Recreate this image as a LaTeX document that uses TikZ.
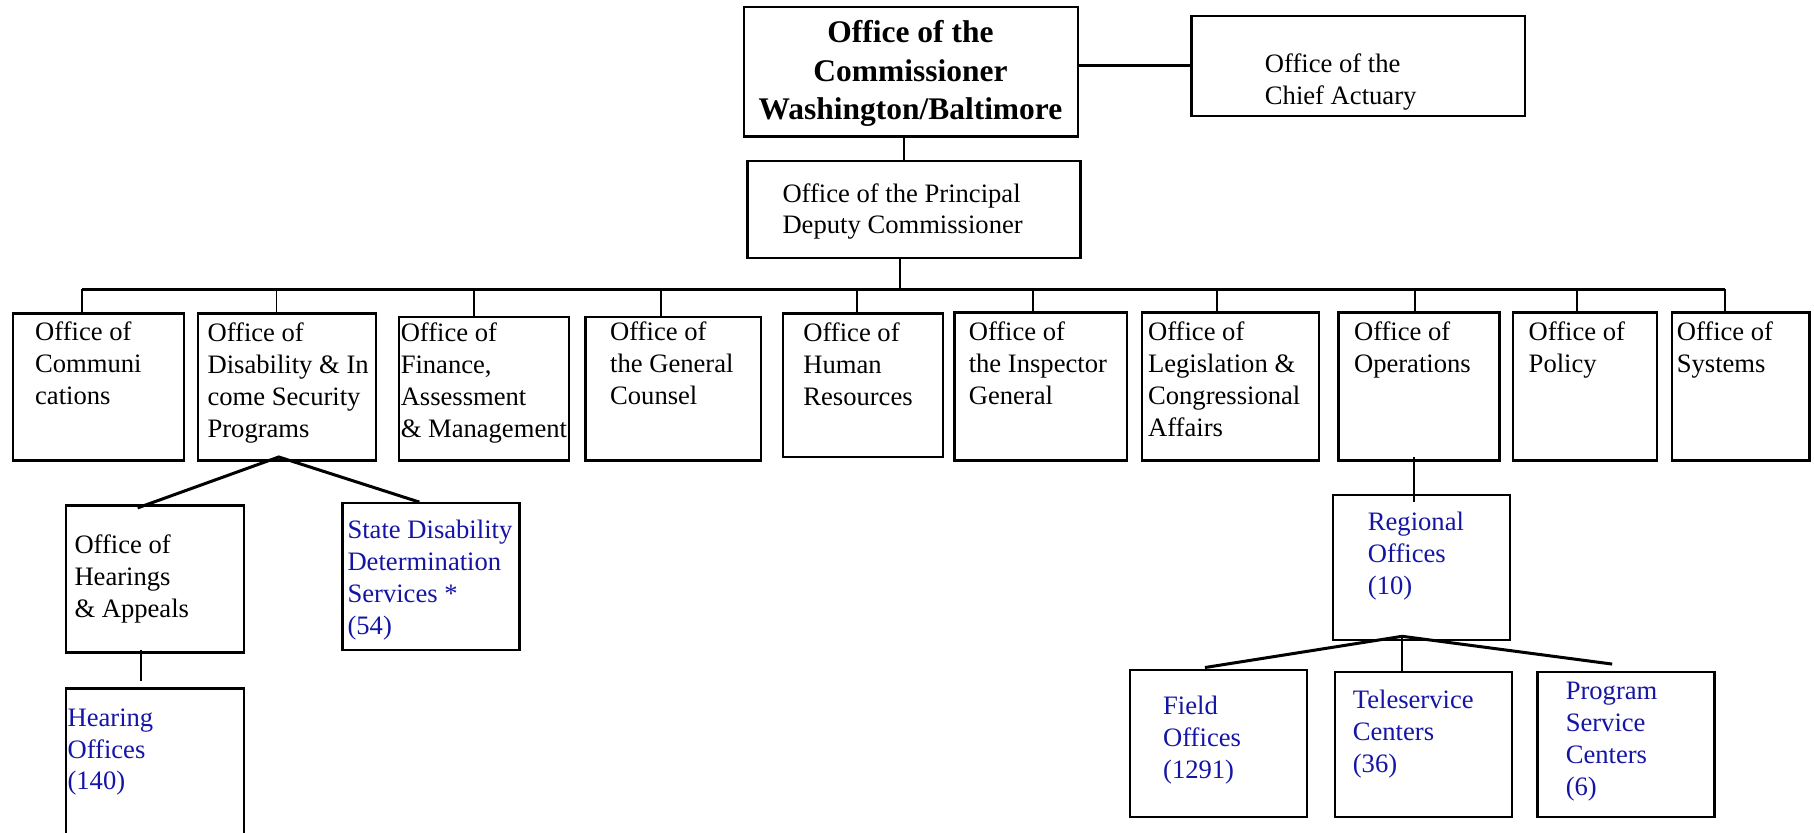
\documentclass[tikz,border=0pt]{standalone}
\usepackage{fontspec}
\setmainfont{Liberation Serif}
\usetikzlibrary{fit,calc}
\definecolor{ssablue}{RGB}{20,20,165}
\tikzset{
	box/.style={draw, line width=1pt, inner sep=0pt},
	txt/.style={anchor=north west, inner sep=0pt, align=left, font=\fontsize{11.5}{13.8}\selectfont},
	bluetxt/.style={txt, text=ssablue},
	link/.style={line width=0.8pt},
	thicklink/.style={line width=1.3pt}
}
\begin{document}
\begin{tikzpicture}[x=0.5pt, y=-0.5pt]
		\useasboundingbox (0,0) rectangle (1568,720);
		\clip (0,0) rectangle (1568,720);
		% top
		\node [box, fit={(643,6)(932,118)}] (comm) {};
		\node [anchor=north, inner sep=0pt, align=center, font=\fontsize{13.6}{16.75}\selectfont\bfseries] (comm-t) at (787,17) {Office of the\\Commissioner\\Washington/Baltimore};
		\node [box, fit={(1030,14)(1318,100)}] (act) {};
		\node [txt] (act-t) at (1093,46) {Office of the\\Chief Actuary};
		\node [box, fit={(646,139)(934,223)}] (dep) {};
		\node [txt] (dep-t) at (676,158) {Office of the Principal\\Deputy Commissioner};
		% offices
		\node [box, fit={(11,271)(159,398)}] (ocomm) {};
		\node [txt] (ocomm-t) at (30,278) {Office of\\Communi\\cations};
		\node [box, fit={(171,271)(325,398)}] (odis) {};
		\node [txt] (odis-t) at (179,279) {Office of\\Disability \& In\\come Security\\Programs};
		\node [box, fit={(345,274)(492,398)}] (ofin) {};
		\node [txt] (ofin-t) at (346,279) {Office of\\Finance,\\Assessment\\\& Management};
		\node [box, fit={(506,274)(658,398)}] (ogc) {};
		\node [txt] (ogc-t) at (527,278) {Office of\\the General\\Counsel};
		\node [box, fit={(677,271)(815,395)}] (ohr) {};
		\node [txt] (ohr-t) at (694,279) {Office of\\Human\\Resources};
		\node [box, fit={(825,270)(974,398)}] (oig) {};
		\node [txt] (oig-t) at (837,278) {Office of\\the Inspector\\General};
		\node [box, fit={(987,270)(1140,398)}] (oleg) {};
		\node [txt] (oleg-t) at (992,278) {Office of\\Legislation \&\\Congressional\\Affairs};
		\node [box, fit={(1157,270)(1296,398)}] (oops) {};
		\node [txt] (oops-t) at (1170,278) {Office of\\Operations};
		\node [box, fit={(1308,270)(1432,398)}] (opol) {};
		\node [txt] (opol-t) at (1321,278) {Office of\\Policy};
		\node [box, fit={(1445,270)(1564,398)}] (osys) {};
		\node [txt] (osys-t) at (1449,278) {Office of\\Systems};
		% under disability
		\node [box, fit={(57,437)(211,564)}] (ohear) {};
		\node [txt] (ohear-t) at (64,462) {Office of\\Hearings\\\& Appeals};
		\node [box, fit={(296,435)(449,562)}] (odds) {};
		\node [bluetxt] (odds-t) at (300,449) {State Disability\\Determination\\Services *\\(54)};
		\node [box, fit={(57,595)(211,760)}] (hoff) {};
		\node [bluetxt] (hoff-t) at (58,612) {Hearing\\Offices\\(140)};
		% under operations
		\node [box, fit={(1152,428)(1305,553)}] (reg) {};
		\node [bluetxt] (reg-t) at (1182,442) {Regional\\Offices\\(10)};
		\node [box, fit={(977,579)(1130,706)}] (field) {};
		\node [bluetxt] (field-t) at (1005,601) {Field\\Offices\\(1291)};
		\node [box, fit={(1154,581)(1307,706)}] (tele) {};
		\node [bluetxt] (tele-t) at (1169,596) {Teleservice\\Centers\\(36)};
		\node [box, fit={(1329,581)(1482,706)}] (prog) {};
		\node [bluetxt] (prog-t) at (1353,589) {Program\\Service\\Centers\\(6)};
		% connectors
		\draw [thicklink] (act.west) -- (act.west -| comm.east);
		\coordinate (cdrop) at ($(comm.south)+(-6,0)$);
		\draw [link] (cdrop) -- (cdrop |- dep.north);
		\coordinate (bus) at (778,250);
		\coordinate (ddrop) at ($(dep.south)+(-12,0)$);
		\draw [link] (ddrop) -- (ddrop |- bus);
		\coordinate (bl) at (71,250);
		\coordinate (br) at (1491,250);
		\draw [thicklink] (bl) -- (br);
		\draw [link] (bl) -- (bl |- ocomm.north);
		\foreach \o/\x in {odis/239, ofin/410, ogc/571, ohr/741, oig/893, oleg/1052, oops/1223, opol/1363}
			\draw [link] (\x,250) -- (\x,250 |- \o.north);
		\draw [link] (br) -- (br |- osys.north);
		\coordinate (disapex) at (241,395);
		\draw [thicklink] ($(ohear.north)+(-15,3)$) -- (disapex) -- ($(odds.north)+(-10,0)$);
		\draw [link] ($(ohear.south)+(-12,-3)$) -- ($(hoff.north)+(-12,-5)$);
		\draw [link] ($(oops.south)+(-4,-4)$) -- ($(reg.north)+(-6,7)$);
		\coordinate (regapex) at (1212,550);
		\draw [thicklink] ($(field.north)+(-12,-1)$) -- (regapex) -- ($(prog.north)+(-12,-6)$);
		\draw [link] (regapex) -- (regapex |- tele.north);
\end{tikzpicture}
\end{document}
